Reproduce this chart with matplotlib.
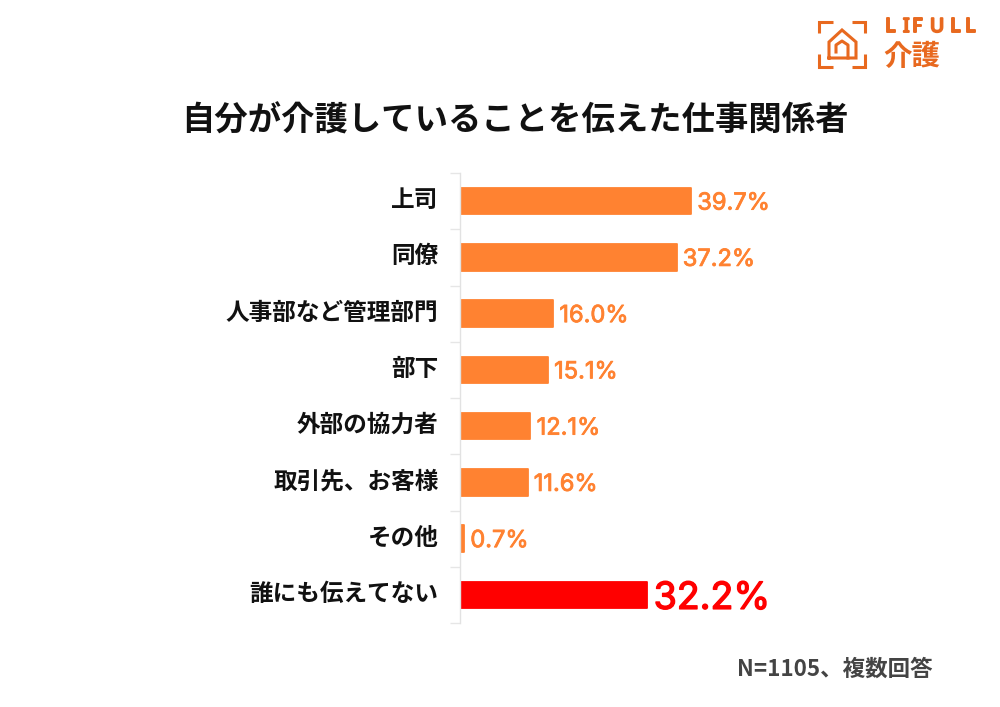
import matplotlib
matplotlib.use('Agg')
import matplotlib.pyplot as plt
import matplotlib.patheffects as pe
import numpy as np

plt.rcParams['font.family'] = ['Noto Sans CJK JP', 'DejaVu Sans']

categories = ['上司', '同僚', '人事部など管理部門', '部下', '外部の協力者', '取引先、お客様', 'その他', '誰にも伝えてない']
values = [39.7, 37.2, 16.0, 15.1, 12.1, 11.6, 0.7, 32.2]
value_labels = ['39.7%', '37.2%', '16.0%', '15.1%', '12.1%', '11.6%', '0.7%', '32.2%']
title = '自分が介護していることを伝えた仕事関係者'
note = 'N=1105、複数回答'

ORANGE = '#FF8231'
RED = '#FF0000'
LOGO = '#E8691F'

fig = plt.figure(figsize=(10, 7.07), dpi=100, facecolor='white')

# main chart, placed in pixels of the 1000x707 picture
ax = fig.add_axes([460 / 1000, 1 - 623 / 707, 340 / 1000, 450 / 707])
y = np.arange(len(categories))
colors = [ORANGE] * 7 + [RED]
ax.barh(y, values, height=0.47, color=colors, edgecolor=colors, linewidth=1.3, joinstyle='round')
ax.set_xlim(0, 340 / 5.82)
ax.set_ylim(len(categories) - 0.5, -0.5)

for s in ['top', 'right', 'bottom']:
    ax.spines[s].set_visible(False)
ax.spines['left'].set_color('#e2e2e2')
ax.spines['left'].set_linewidth(1)
ax.xaxis.set_visible(False)

ax.set_yticks(y)
ax.set_yticklabels(categories, fontsize=17, fontweight='bold', color='#111111', va='center')
ax.tick_params(axis='y', which='major', length=0, pad=15.5)
for t in ax.get_yticklabels():
    t.set_transform(t.get_transform() + matplotlib.transforms.ScaledTranslation(0, 0.8 / 72, fig.dpi_scale_trans))
ax.set_yticks(np.arange(len(categories) + 1) - 0.5, minor=True)
ax.tick_params(axis='y', which='minor', length=7, width=1, color='#e6e6e6')

for i, (v, lab) in enumerate(zip(values, value_labels)):
    big = i == 7
    col = RED if big else ORANGE
    ax.annotate(lab, (v, i), xytext=(4.5 if big else 4.5, 0), textcoords='offset points',
                va='center_baseline', ha='left', fontsize=27 if big else 17, family='Inter', color=col,
                path_effects=[pe.withStroke(linewidth=1.0 if big else 0.6, foreground=col)])

fig.text(515 / 1000, 1 - 121 / 707, title, ha='center', va='center', fontsize=24, fontweight='bold', color='#111111')
fig.text(933 / 1000, 1 - 669 / 707, note, ha='right', va='center', fontsize=16.2, fontweight='bold', color='#444444')

# logo, drawn on a pixel overlay
lg = fig.add_axes([0, 0, 1, 1], facecolor='none')
lg.set_xlim(0, 1000)
lg.set_ylim(707, 0)
lg.axis('off')
corners = [
    ([819, 819, 833], [33, 22, 22]),
    ([852, 865, 865], [22, 22, 33]),
    ([819, 819, 833], [54, 67, 67]),
    ([852, 865, 865], [67, 67, 54]),
]
for cx, cy in corners:
    lg.plot(cx, cy, color=LOGO, lw=2.2, solid_capstyle='butt', solid_joinstyle='miter')
lg.plot([829, 829, 842, 856, 856, 829], [58, 42, 30, 42, 58, 58], color=LOGO, lw=2.2, solid_joinstyle='miter')
lg.plot([836, 836, 842, 848, 848], [52, 45, 41, 45, 58], color=LOGO, lw=2.2)
for lx, ch in zip([885, 903, 912, 930, 950, 965], 'LIFULL'):
    lg.text(lx, 27, ch, ha='left', va='center', fontsize=14, family='Noto Sans', color=LOGO,
            path_effects=[pe.withStroke(linewidth=1.4, foreground=LOGO)])
lg.text(883, 57, '介護', ha='left', va='center', fontsize=20.5, fontweight='bold', color=LOGO)

fig.savefig('out.png', dpi=100)
